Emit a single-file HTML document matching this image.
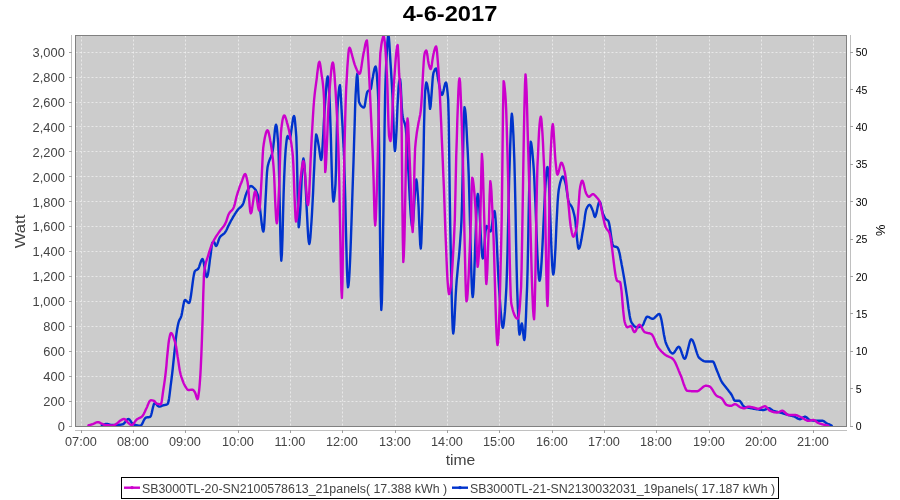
<!DOCTYPE html>
<html><head><meta charset="utf-8"><style>
html,body{margin:0;padding:0;background:#fff;width:900px;height:500px;overflow:hidden;position:relative}
</style></head><body>
<svg width="900" height="500" viewBox="0 0 900 500" style="position:absolute;left:0;top:0;will-change:transform">
<text x="450" y="21.3" text-anchor="middle" font-family="Liberation Sans, sans-serif" font-weight="bold" font-size="22.4" textLength="94.6" lengthAdjust="spacingAndGlyphs" fill="#000">4-6-2017</text>
<rect x="75" y="35" width="772" height="392" fill="#cccccc"/>
<path d="M81.50 35.5V427 M133.50 35.5V427 M185.50 35.5V427 M238.50 35.5V427 M290.50 35.5V427 M342.50 35.5V427 M395.50 35.5V427 M447.50 35.5V427 M499.50 35.5V427 M552.50 35.5V427 M604.50 35.5V427 M656.50 35.5V427 M709.50 35.5V427 M761.50 35.5V427 M813.50 35.5V427 M75.5 426.50H847 M75.5 401.50H847 M75.5 376.50H847 M75.5 351.50H847 M75.5 326.50H847 M75.5 301.50H847 M75.5 276.50H847 M75.5 251.50H847 M75.5 226.50H847 M75.5 201.50H847 M75.5 176.50H847 M75.5 151.50H847 M75.5 126.50H847 M75.5 102.50H847 M75.5 77.50H847 M75.5 52.50H847" stroke="#ffffff" stroke-width="0.55" stroke-dasharray="2 2" fill="none"/>
<defs><clipPath id="c"><rect x="75" y="35" width="772" height="392"/></clipPath></defs><g clip-path="url(#c)"><path d="M101.8 425.2 L102.3 425.0 L102.9 424.9 L103.4 424.7 L104.0 424.5 L104.5 424.3 L105.1 424.1 L105.6 424.0 L106.2 423.9 L106.7 423.9 L107.2 423.9 L107.8 424.1 L108.3 424.2 L108.9 424.4 L109.5 424.7 L110.0 424.8 L110.5 425.0 L111.1 425.0 L111.6 425.0 L112.1 425.0 L112.6 425.0 L113.1 425.0 L113.6 425.0 L114.1 425.0 L114.6 425.0 L115.1 425.0 L115.6 425.0 L116.1 425.0 L116.6 425.0 L117.1 425.0 L117.6 424.9 L118.1 424.9 L118.6 424.9 L119.2 424.8 L119.7 424.8 L120.2 424.7 L120.7 424.6 L121.2 424.6 L121.7 424.5 L122.2 424.4 L122.7 424.3 L123.2 424.1 L123.7 423.7 L124.3 423.2 L124.8 422.6 L125.3 421.9 L125.8 421.2 L126.3 420.5 L126.8 419.9 L127.4 419.4 L127.9 419.1 L128.4 419.0 L128.9 419.2 L129.5 419.6 L130.0 420.2 L130.6 421.0 L131.1 421.9 L131.7 422.7 L132.2 423.4 L132.8 424.0 L133.3 424.3 L133.8 424.5 L134.3 424.6 L134.8 424.8 L135.3 424.9 L135.8 425.1 L136.3 425.2 L136.9 425.3 L137.4 425.4 L137.9 425.5 L138.4 425.6 L138.9 425.6 L139.4 425.7 L139.9 425.7 L140.4 425.7 L140.9 425.5 L141.5 424.9 L142.0 424.1 L142.6 423.1 L143.1 421.9 L143.6 420.8 L144.2 419.7 L144.7 418.8 L145.3 418.1 L145.8 417.7 L146.4 417.5 L146.9 417.4 L147.4 417.3 L148.0 417.3 L148.6 417.2 L149.1 417.1 L149.6 417.0 L150.2 416.8 L150.7 416.2 L151.2 414.8 L151.7 413.0 L152.2 410.8 L152.7 408.6 L153.2 406.5 L153.7 404.7 L154.2 403.5 L154.7 403.0 L155.2 403.2 L155.8 403.6 L156.3 404.1 L156.9 404.8 L157.4 405.5 L158.0 406.0 L158.5 406.4 L159.1 406.6 L159.6 406.6 L160.2 406.5 L160.7 406.3 L161.2 406.1 L161.7 405.9 L162.2 405.7 L162.8 405.5 L163.3 405.3 L163.8 405.2 L164.4 405.1 L164.9 405.0 L165.4 404.9 L165.9 404.8 L166.4 404.6 L167.0 404.4 L167.5 404.2 L168.0 403.3 L168.6 401.2 L169.1 398.2 L169.6 394.6 L170.1 390.4 L170.6 386.1 L171.2 381.7 L171.7 377.5 L172.2 373.4 L172.7 369.0 L173.2 364.2 L173.7 359.4 L174.2 354.6 L174.7 350.0 L175.3 344.6 L175.8 339.1 L176.4 334.1 L177.0 330.0 L177.5 327.2 L178.0 324.7 L178.5 322.6 L179.0 321.0 L179.5 319.8 L180.0 319.0 L180.5 318.1 L181.0 317.0 L181.5 315.3 L182.0 312.9 L182.5 310.1 L183.0 307.2 L183.5 304.5 L184.0 302.2 L184.5 300.6 L185.0 300.0 L185.5 300.1 L186.0 300.5 L186.5 300.9 L187.0 301.5 L187.5 302.1 L188.0 302.5 L188.5 302.9 L189.0 303.0 L189.5 302.4 L190.0 300.8 L190.5 298.3 L191.0 295.2 L191.5 291.6 L192.0 287.8 L192.5 284.0 L193.0 280.3 L193.5 276.9 L194.0 274.1 L194.5 272.1 L195.0 271.0 L195.5 270.5 L196.0 270.2 L196.5 270.0 L197.0 269.7 L197.5 269.4 L198.0 269.0 L198.5 268.3 L199.0 267.1 L199.5 265.7 L200.0 264.2 L200.5 262.7 L201.0 261.3 L201.5 260.1 L202.0 259.3 L202.5 259.0 L203.0 259.8 L203.6 261.8 L204.1 264.7 L204.7 268.0 L205.2 271.3 L205.7 274.2 L206.3 276.2 L206.8 277.0 L207.3 276.3 L207.9 274.4 L208.4 271.6 L208.9 268.1 L209.4 264.1 L209.9 259.9 L210.5 255.8 L211.0 252.0 L211.6 246.6 L212.2 243.0 L212.8 242.4 L213.4 242.1 L214.0 242.0 L214.5 242.6 L215.0 244.0 L215.5 245.4 L216.0 246.0 L216.5 245.7 L217.0 244.8 L217.5 243.6 L218.0 242.2 L218.5 240.6 L219.0 239.1 L219.5 237.9 L220.0 237.0 L220.5 236.4 L221.0 235.9 L221.5 235.5 L222.0 235.1 L222.5 234.7 L223.0 234.4 L223.5 234.0 L224.0 233.6 L224.5 233.1 L225.0 232.5 L225.5 231.7 L226.1 230.8 L226.6 229.8 L227.1 228.7 L227.6 227.5 L228.1 226.4 L228.7 225.2 L229.2 224.2 L229.7 223.2 L230.2 222.3 L230.7 221.3 L231.2 220.3 L231.8 219.4 L232.3 218.5 L232.8 217.6 L233.3 216.7 L233.8 215.9 L234.3 215.1 L234.8 214.2 L235.3 213.4 L235.8 212.7 L236.3 211.9 L236.8 211.2 L237.3 210.5 L237.8 209.8 L238.3 209.2 L238.8 208.6 L239.4 208.1 L239.9 207.7 L240.4 207.3 L240.9 206.8 L241.4 206.3 L242.0 205.7 L242.5 205.0 L243.0 204.0 L243.6 202.6 L244.1 200.9 L244.6 199.0 L245.1 197.2 L245.6 195.4 L246.2 193.8 L246.7 192.5 L247.2 191.4 L247.7 190.3 L248.2 189.2 L248.8 188.2 L249.3 187.3 L249.8 186.6 L250.3 186.2 L250.8 186.0 L251.3 186.1 L251.9 186.3 L252.4 186.6 L252.9 187.0 L253.4 187.5 L253.9 188.0 L254.5 188.6 L255.0 189.2 L255.6 189.9 L256.1 190.9 L256.6 192.1 L257.2 193.4 L257.8 195.0 L258.3 196.7 L258.8 199.0 L259.3 202.5 L259.8 206.7 L260.3 211.4 L260.9 216.2 L261.4 220.9 L261.9 225.0 L262.4 228.4 L262.9 230.7 L263.4 231.5 L263.9 229.1 L264.4 222.6 L264.9 213.3 L265.4 202.4 L266.0 191.2 L266.5 180.8 L267.0 172.5 L267.5 167.6 L268.0 165.1 L268.5 163.2 L269.0 161.6 L269.5 160.2 L270.0 158.9 L270.5 157.9 L271.0 156.8 L271.5 155.5 L272.1 153.2 L272.8 150.2 L273.3 146.4 L273.9 141.1 L274.4 135.4 L274.9 130.1 L275.5 126.2 L276.0 124.7 L276.6 126.2 L277.1 130.4 L277.6 136.4 L278.2 143.5 L278.7 157.0 L279.2 180.1 L279.8 207.3 L280.3 233.4 L280.8 253.0 L281.3 260.7 L281.9 254.1 L282.5 237.5 L283.0 215.9 L283.6 194.1 L284.2 177.0 L284.9 161.5 L285.6 150.2 L286.1 145.0 L286.6 140.5 L287.1 137.3 L287.6 136.1 L288.1 136.5 L288.6 137.4 L289.1 138.4 L289.6 138.8 L290.2 137.8 L290.7 135.2 L291.2 131.6 L291.8 127.4 L292.4 123.2 L292.9 119.6 L293.4 117.0 L294.0 116.0 L294.6 117.7 L295.1 122.2 L295.7 128.9 L296.3 136.8 L296.9 155.8 L297.5 186.4 L298.1 214.8 L298.7 227.3 L299.2 224.9 L299.7 218.6 L300.3 209.5 L300.8 198.6 L301.3 187.2 L301.8 176.3 L302.4 167.2 L302.9 160.9 L303.4 158.5 L303.9 160.5 L304.5 166.0 L305.0 174.1 L305.5 184.2 L306.1 195.4 L306.6 207.1 L307.2 218.3 L307.7 228.4 L308.2 236.5 L308.8 242.0 L309.3 244.0 L309.8 242.1 L310.4 237.0 L310.9 229.8 L311.5 221.5 L312.0 213.2 L312.5 203.8 L313.1 192.3 L313.6 179.9 L314.2 167.8 L314.7 157.0 L315.4 142.6 L316.1 134.5 L316.6 135.3 L317.1 137.3 L317.7 140.0 L318.2 143.1 L318.7 145.9 L319.2 148.9 L319.7 152.6 L320.2 156.2 L320.7 158.9 L321.2 160.0 L321.7 157.8 L322.2 152.1 L322.7 143.7 L323.3 134.0 L323.8 123.9 L324.3 114.5 L324.8 107.0 L325.4 99.3 L326.0 91.2 L326.5 83.8 L327.1 78.5 L327.7 76.5 L328.2 79.0 L328.7 84.8 L329.2 91.9 L329.7 102.2 L330.2 117.2 L330.8 135.1 L331.3 153.9 L331.8 171.9 L332.3 187.1 L332.9 197.6 L333.4 201.5 L333.9 200.1 L334.4 196.3 L335.0 190.7 L335.5 183.8 L336.0 169.6 L336.5 146.6 L337.0 123.3 L337.5 108.4 L338.1 99.5 L338.7 92.1 L339.3 87.1 L339.9 85.2 L340.4 89.3 L341.0 98.5 L341.5 108.4 L342.0 117.6 L342.6 127.4 L343.1 137.9 L343.7 149.4 L344.2 162.0 L344.7 178.7 L345.3 200.4 L345.8 224.3 L346.4 247.7 L346.9 267.9 L347.5 282.0 L348.0 287.3 L348.5 285.5 L349.0 280.4 L349.5 272.5 L350.0 262.3 L350.5 250.1 L351.0 236.4 L351.5 221.7 L352.0 206.5 L352.5 191.2 L353.0 176.2 L353.5 162.0 L354.0 145.2 L354.6 126.0 L355.1 108.0 L355.6 95.0 L356.2 85.1 L356.7 77.1 L357.3 73.8 L357.8 80.7 L358.4 93.9 L358.9 101.7 L359.4 102.9 L359.9 103.9 L360.4 104.8 L360.9 105.6 L361.4 106.2 L362.0 106.7 L362.5 107.1 L363.0 107.3 L363.5 107.5 L364.0 107.5 L364.6 106.5 L365.1 103.8 L365.6 100.3 L366.2 96.7 L366.8 93.6 L367.3 91.9 L367.8 91.2 L368.4 90.8 L368.9 90.5 L369.4 90.2 L369.9 89.9 L370.5 89.4 L371.0 88.6 L371.6 84.8 L372.3 79.9 L372.9 76.9 L373.4 73.9 L374.0 71.0 L374.5 68.7 L375.1 67.1 L375.6 66.5 L376.1 68.2 L376.7 72.9 L377.2 80.1 L377.8 89.3 L378.3 100.0 L378.8 122.8 L379.3 163.7 L379.8 212.8 L380.3 260.2 L380.8 295.9 L381.3 310.0 L381.9 301.3 L382.4 278.1 L382.9 244.6 L383.5 205.3 L384.1 164.4 L384.6 126.3 L385.1 95.4 L385.7 75.8 L386.2 63.8 L386.8 52.7 L387.3 43.5 L387.9 37.3 L388.4 35.0 L388.9 37.7 L389.4 44.4 L389.9 52.9 L390.4 61.1 L390.9 68.7 L391.4 76.9 L391.9 85.7 L392.4 95.0 L392.9 107.0 L393.4 121.6 L393.9 135.9 L394.4 146.7 L394.9 151.0 L395.4 148.3 L395.9 141.0 L396.5 130.6 L397.0 118.6 L397.5 106.3 L398.1 95.1 L398.6 86.5 L399.1 81.9 L399.6 80.0 L400.1 79.2 L400.7 84.1 L401.2 95.3 L401.8 107.4 L402.4 115.1 L403.0 118.1 L403.5 120.1 L404.1 121.7 L404.7 123.2 L405.2 125.3 L405.8 128.5 L406.5 137.1 L407.1 148.5 L407.6 157.1 L408.1 166.7 L408.7 177.0 L409.2 187.4 L409.7 197.4 L410.2 206.6 L410.7 214.6 L411.3 220.9 L411.8 225.0 L412.3 226.5 L412.8 224.5 L413.3 219.2 L413.8 211.6 L414.3 203.0 L414.8 194.4 L415.3 186.8 L415.8 181.5 L416.3 179.5 L416.9 182.4 L417.4 189.2 L418.0 197.0 L418.6 207.0 L419.1 220.3 L419.7 233.8 L420.2 244.3 L420.8 248.5 L421.3 242.8 L421.8 228.0 L422.4 207.4 L422.9 184.3 L423.4 162.0 L424.0 127.5 L424.7 100.0 L425.2 91.2 L425.8 84.9 L426.3 82.5 L426.9 83.6 L427.5 86.4 L428.1 90.3 L428.7 94.6 L429.4 102.9 L430.0 108.9 L430.6 106.5 L431.1 100.4 L431.7 92.3 L432.3 83.9 L432.8 77.0 L433.4 73.2 L433.9 71.7 L434.5 70.4 L435.0 69.4 L435.6 68.7 L436.1 68.5 L436.6 69.7 L437.1 72.7 L437.6 76.2 L438.1 79.2 L438.7 82.0 L439.2 85.0 L439.8 88.0 L440.3 90.7 L440.9 92.9 L441.4 94.4 L442.0 95.0 L442.6 94.3 L443.1 92.5 L443.7 90.1 L444.2 87.4 L444.8 85.0 L445.3 83.2 L445.9 82.5 L446.5 83.7 L447.0 87.3 L447.6 92.8 L448.2 100.0 L448.7 118.9 L449.2 153.8 L449.7 192.8 L450.2 224.0 L450.7 248.3 L451.2 273.2 L451.7 296.3 L452.2 315.5 L452.7 328.6 L453.2 333.5 L453.7 331.0 L454.2 324.6 L454.7 315.5 L455.2 305.3 L455.7 295.3 L456.2 287.0 L456.7 280.0 L457.3 273.9 L457.8 268.2 L458.3 262.8 L458.9 257.3 L459.4 251.6 L459.9 245.2 L460.4 238.0 L461.0 229.7 L461.5 220.0 L462.0 204.8 L462.5 181.9 L463.0 156.2 L463.5 132.0 L464.0 114.2 L464.5 107.2 L465.0 109.0 L465.6 113.8 L466.1 121.2 L466.6 130.3 L467.1 140.6 L467.7 151.3 L468.2 162.0 L468.7 174.4 L469.2 190.9 L469.7 210.1 L470.2 230.4 L470.7 250.4 L471.2 268.5 L471.7 283.4 L472.2 293.3 L472.7 297.0 L473.2 294.1 L473.7 286.3 L474.2 274.8 L474.7 260.7 L475.2 245.5 L475.8 230.3 L476.3 216.2 L476.8 204.7 L477.3 196.9 L477.8 194.0 L478.3 195.8 L478.8 200.7 L479.3 207.9 L479.8 216.7 L480.3 226.2 L480.8 235.7 L481.3 244.5 L481.8 251.7 L482.3 256.6 L482.8 258.4 L483.3 256.6 L483.9 252.0 L484.4 245.6 L484.9 238.8 L485.4 232.4 L486.0 227.8 L486.5 226.0 L487.0 226.2 L487.5 226.9 L488.0 227.7 L488.5 228.8 L489.0 229.8 L489.5 230.6 L490.0 231.3 L490.5 231.5 L491.0 230.6 L491.5 228.3 L492.0 225.0 L492.5 221.2 L493.0 217.5 L493.5 214.2 L494.0 211.9 L494.5 211.0 L495.0 213.0 L495.5 218.3 L496.0 226.4 L496.5 236.3 L497.0 247.3 L497.5 258.6 L498.0 269.5 L498.5 279.2 L499.0 287.0 L499.5 294.5 L500.1 302.3 L500.6 310.0 L501.2 316.9 L501.7 322.6 L502.3 326.4 L502.8 327.8 L503.3 326.6 L503.8 323.4 L504.3 318.4 L504.9 311.9 L505.4 304.3 L505.9 295.9 L506.4 287.0 L506.9 273.2 L507.5 252.9 L508.0 228.8 L508.6 203.8 L509.1 180.6 L509.7 162.0 L510.2 146.2 L510.8 130.5 L511.3 118.6 L511.8 113.8 L512.3 116.6 L512.8 124.2 L513.4 135.1 L513.9 148.2 L514.4 162.0 L514.9 181.7 L515.5 209.1 L516.0 239.1 L516.6 266.8 L517.1 287.0 L517.7 303.7 L518.3 319.0 L518.9 330.2 L519.5 334.5 L520.1 332.8 L520.6 329.0 L521.2 325.2 L521.8 323.5 L522.3 325.2 L522.8 329.3 L523.3 334.2 L523.8 338.3 L524.3 340.0 L524.9 336.8 L525.4 328.2 L526.0 315.9 L526.5 301.6 L527.1 287.0 L527.6 269.4 L528.1 244.9 L528.6 217.0 L529.2 189.3 L529.7 165.2 L530.2 148.1 L530.7 141.7 L531.2 143.0 L531.7 146.4 L532.3 151.3 L532.8 157.0 L533.3 162.8 L533.8 169.8 L534.3 179.3 L534.8 190.6 L535.4 203.3 L535.9 216.6 L536.4 230.1 L536.9 243.1 L537.4 255.1 L538.0 265.4 L538.5 273.5 L539.0 278.8 L539.5 280.7 L540.0 279.4 L540.5 275.8 L541.0 270.2 L541.5 262.9 L542.0 254.3 L542.5 244.7 L543.0 234.5 L543.5 223.8 L544.0 213.2 L544.5 203.0 L545.0 193.4 L545.5 184.8 L546.0 177.5 L546.5 171.9 L547.0 168.3 L547.5 167.0 L548.0 169.5 L548.6 176.4 L549.1 186.6 L549.6 199.3 L550.1 213.4 L550.7 228.1 L551.2 242.2 L551.7 254.9 L552.2 265.1 L552.8 272.0 L553.3 274.5 L553.8 272.4 L554.4 266.6 L554.9 258.0 L555.5 247.5 L556.0 235.8 L556.5 223.9 L557.1 212.4 L557.6 202.4 L558.2 194.7 L558.7 190.0 L559.2 187.3 L559.7 184.8 L560.2 182.6 L560.8 180.5 L561.3 178.9 L561.8 177.6 L562.3 176.8 L562.8 176.5 L563.3 176.9 L563.8 177.9 L564.4 179.3 L564.9 181.0 L565.4 182.8 L566.0 185.4 L566.5 188.9 L567.1 192.9 L567.7 196.8 L568.2 200.0 L568.8 202.2 L569.3 203.4 L569.9 204.2 L570.5 204.9 L571.0 205.6 L571.5 206.4 L572.1 207.5 L572.6 208.9 L573.2 210.6 L573.7 212.7 L574.3 215.0 L574.8 217.6 L575.4 221.4 L575.9 226.6 L576.5 232.6 L577.0 238.5 L577.6 243.7 L578.1 247.3 L578.7 248.7 L579.2 248.2 L579.8 247.0 L580.3 245.0 L580.8 242.5 L581.4 239.6 L581.9 236.5 L582.4 233.2 L583.0 230.0 L583.5 227.0 L584.0 223.5 L584.6 219.4 L585.1 215.2 L585.7 211.7 L586.2 209.5 L586.8 208.2 L587.3 207.1 L587.9 206.2 L588.4 205.4 L589.0 205.0 L589.5 204.8 L590.1 205.1 L590.6 205.8 L591.2 206.9 L591.8 208.2 L592.3 209.5 L592.9 210.9 L593.4 212.5 L593.9 214.5 L594.4 216.2 L594.9 216.9 L595.4 216.4 L595.9 215.0 L596.5 212.9 L597.0 210.5 L597.5 207.9 L598.0 205.5 L598.6 203.4 L599.1 202.0 L599.6 201.5 L600.1 202.2 L600.7 204.0 L601.2 206.4 L601.8 209.1 L602.4 211.6 L602.9 213.5 L603.4 214.9 L604.0 216.1 L604.5 217.2 L605.1 218.2 L605.6 218.9 L606.1 219.4 L606.7 219.7 L607.2 220.0 L607.8 220.4 L608.3 220.9 L608.8 222.1 L609.3 224.2 L609.8 227.0 L610.3 230.3 L610.8 233.8 L611.3 237.3 L611.8 240.5 L612.3 243.2 L612.8 245.1 L613.3 246.0 L613.8 246.3 L614.3 246.4 L614.8 246.6 L615.3 246.7 L615.8 246.8 L616.3 246.9 L616.8 247.1 L617.3 247.3 L617.8 247.9 L618.4 249.2 L618.9 250.9 L619.5 253.1 L620.0 255.6 L620.5 258.4 L621.1 261.3 L621.6 264.3 L622.2 267.2 L622.7 270.0 L623.2 272.9 L623.8 276.2 L624.4 279.6 L624.9 283.1 L625.5 286.6 L626.0 290.0 L626.5 293.4 L627.1 297.1 L627.6 301.1 L628.1 305.0 L628.6 308.9 L629.2 312.5 L629.7 315.8 L630.2 318.6 L630.8 320.7 L631.3 322.0 L631.8 322.9 L632.4 323.7 L632.9 324.5 L633.5 325.2 L634.0 325.8 L634.5 326.3 L635.1 326.7 L635.6 327.0 L636.2 327.2 L636.7 327.3 L637.2 327.3 L637.8 327.2 L638.3 327.2 L638.8 327.1 L639.4 326.9 L639.9 326.8 L640.4 326.6 L640.9 326.4 L641.5 326.2 L642.0 326.0 L642.5 325.6 L643.1 324.7 L643.6 323.7 L644.1 322.4 L644.6 321.1 L645.2 319.8 L645.7 318.6 L646.2 317.6 L646.8 316.9 L647.3 316.7 L647.8 316.8 L648.4 316.9 L648.9 317.2 L649.5 317.4 L650.0 317.8 L650.5 318.1 L651.1 318.3 L651.6 318.6 L652.2 318.7 L652.7 318.8 L653.2 318.7 L653.7 318.5 L654.2 318.2 L654.7 317.7 L655.2 317.2 L655.7 316.7 L656.3 316.1 L656.8 315.6 L657.3 315.1 L657.8 314.6 L658.3 314.3 L658.8 314.1 L659.3 314.0 L659.8 314.4 L660.3 315.6 L660.8 317.3 L661.4 319.6 L661.9 322.3 L662.4 325.2 L662.9 328.3 L663.4 331.4 L663.9 334.5 L664.5 337.3 L665.0 339.8 L665.5 341.8 L666.0 343.3 L666.5 344.5 L667.0 345.6 L667.5 346.7 L668.1 347.8 L668.6 348.9 L669.1 349.8 L669.6 350.7 L670.1 351.5 L670.6 352.2 L671.2 352.7 L671.7 353.2 L672.2 353.4 L672.7 353.5 L673.2 353.4 L673.7 353.0 L674.2 352.5 L674.7 351.8 L675.2 351.0 L675.8 350.1 L676.3 349.3 L676.8 348.5 L677.3 347.8 L677.8 347.3 L678.3 346.9 L678.8 346.8 L679.3 347.1 L679.9 347.8 L680.4 349.0 L680.9 350.4 L681.5 352.0 L682.0 353.6 L682.6 355.2 L683.1 356.6 L683.6 357.8 L684.2 358.5 L684.7 358.8 L685.2 358.5 L685.7 357.6 L686.2 356.2 L686.7 354.4 L687.2 352.4 L687.7 350.2 L688.3 347.9 L688.8 345.7 L689.3 343.7 L689.8 341.9 L690.3 340.5 L690.8 339.6 L691.3 339.3 L691.8 339.5 L692.3 340.0 L692.8 340.8 L693.3 341.9 L693.8 343.2 L694.3 344.6 L694.8 346.2 L695.3 347.8 L695.8 349.5 L696.3 351.1 L696.8 352.7 L697.3 354.1 L697.8 355.4 L698.3 356.6 L698.8 357.4 L699.3 358.0 L699.8 358.4 L700.3 358.8 L700.8 359.2 L701.4 359.6 L701.9 360.0 L702.4 360.3 L702.9 360.6 L703.4 360.9 L703.9 361.1 L704.5 361.3 L705.0 361.4 L705.5 361.5 L706.0 361.5 L706.5 361.5 L707.0 361.5 L707.5 361.5 L708.1 361.5 L708.6 361.5 L709.1 361.5 L709.6 361.5 L710.1 361.5 L710.6 361.5 L711.2 361.5 L711.7 361.5 L712.2 361.5 L712.7 361.5 L713.2 361.7 L713.7 362.4 L714.2 363.4 L714.7 364.6 L715.2 366.0 L715.7 367.4 L716.2 368.8 L716.7 370.0 L717.2 371.2 L717.7 372.4 L718.2 373.6 L718.7 374.9 L719.2 376.2 L719.7 377.4 L720.2 378.6 L720.7 379.8 L721.2 380.8 L721.7 381.7 L722.2 382.5 L722.7 383.3 L723.2 383.9 L723.7 384.6 L724.2 385.2 L724.7 385.8 L725.2 386.4 L725.7 387.0 L726.2 387.7 L726.7 388.3 L727.2 389.0 L727.7 389.6 L728.2 390.2 L728.7 390.9 L729.2 391.5 L729.7 392.2 L730.2 392.8 L730.7 393.5 L731.2 394.3 L731.7 395.0 L732.2 396.0 L732.8 397.3 L733.4 398.5 L733.9 399.7 L734.5 400.5 L735.0 400.8 L735.5 400.8 L736.0 400.8 L736.6 400.8 L737.1 400.8 L737.6 400.8 L738.2 400.8 L738.7 400.8 L739.2 400.8 L739.7 400.9 L740.2 401.4 L740.7 402.0 L741.2 402.7 L741.7 403.5 L742.2 404.3 L742.7 405.1 L743.2 405.8 L743.7 406.4 L744.2 406.7 L744.7 406.9 L745.3 407.1 L745.8 407.2 L746.3 407.3 L746.8 407.4 L747.4 407.5 L747.9 407.6 L748.4 407.7 L748.9 407.8 L749.5 407.9 L750.0 408.0 L750.5 408.1 L751.0 408.2 L751.5 408.3 L752.1 408.4 L752.6 408.5 L753.1 408.6 L753.6 408.7 L754.1 408.8 L754.6 408.9 L755.2 409.0 L755.7 409.0 L756.2 409.1 L756.7 409.2 L757.2 409.3 L757.7 409.4 L758.2 409.4 L758.7 409.5 L759.2 409.6 L759.7 409.7 L760.3 409.8 L760.8 409.8 L761.3 409.9 L761.8 409.9 L762.3 410.0 L762.8 410.0 L763.3 410.0 L763.8 410.0 L764.4 409.9 L764.9 409.7 L765.4 409.5 L766.0 409.3 L766.5 409.0 L767.1 408.8 L767.6 408.6 L768.1 408.4 L768.7 408.3 L769.2 408.3 L769.7 408.4 L770.2 408.6 L770.7 409.0 L771.2 409.4 L771.8 409.8 L772.3 410.2 L772.8 410.5 L773.3 410.8 L773.8 411.0 L774.3 411.1 L774.8 411.3 L775.4 411.4 L775.9 411.6 L776.4 411.7 L776.9 411.8 L777.4 411.9 L777.9 412.0 L778.5 412.1 L779.0 412.2 L779.5 412.4 L780.0 412.5 L780.5 412.6 L781.0 412.8 L781.6 412.9 L782.1 413.1 L782.6 413.3 L783.1 413.4 L783.6 413.6 L784.1 413.7 L784.7 413.9 L785.2 414.1 L785.7 414.2 L786.2 414.4 L786.7 414.5 L787.3 414.7 L787.8 414.9 L788.3 415.0 L788.8 415.1 L789.3 415.3 L789.9 415.4 L790.4 415.5 L790.9 415.7 L791.4 415.8 L791.9 415.9 L792.4 416.0 L793.0 416.2 L793.5 416.3 L794.0 416.5 L794.5 416.7 L795.0 416.9 L795.5 417.2 L796.0 417.5 L796.5 417.8 L797.0 418.1 L797.5 418.4 L798.0 418.6 L798.5 418.9 L799.0 419.0 L799.5 419.2 L800.0 419.2 L800.5 419.1 L801.0 418.9 L801.5 418.7 L802.0 418.3 L802.5 417.9 L803.0 417.6 L803.5 417.2 L804.0 417.0 L804.5 416.8 L805.0 416.7 L805.5 416.8 L806.0 417.0 L806.5 417.3 L807.0 417.8 L807.5 418.2 L808.0 418.7 L808.5 419.1 L809.0 419.5 L809.5 419.8 L810.0 420.0 L810.5 420.1 L811.0 420.2 L811.5 420.3 L812.1 420.4 L812.6 420.5 L813.1 420.5 L813.6 420.6 L814.1 420.7 L814.6 420.7 L815.2 420.7 L815.7 420.8 L816.2 420.8 L816.7 420.8 L817.2 420.8 L817.8 420.8 L818.3 420.8 L818.8 420.8 L819.3 420.8 L819.9 420.8 L820.4 420.8 L820.9 420.8 L821.4 420.8 L822.0 420.8 L822.5 420.8 L823.0 420.9 L823.5 421.1 L824.1 421.4 L824.6 421.8 L825.1 422.2 L825.7 422.6 L826.2 423.0 L826.7 423.3 L827.2 423.5 L827.7 423.8 L828.2 424.0 L828.7 424.2 L829.2 424.4 L829.7 424.7 L830.2 424.9 L830.7 425.1 L831.2 425.3 L831.7 425.5" stroke="#0033cc" stroke-width="2.4" fill="none" stroke-linejoin="round" stroke-linecap="round"/>
<path d="M88.4 425.4 L88.9 425.2 L89.5 425.1 L90.0 424.9 L90.6 424.8 L91.1 424.6 L91.7 424.4 L92.2 424.3 L92.8 424.1 L93.3 423.9 L93.8 423.7 L94.3 423.5 L94.8 423.2 L95.3 422.9 L95.8 422.7 L96.3 422.5 L96.8 422.3 L97.3 422.1 L97.8 422.1 L98.3 422.2 L98.9 422.3 L99.5 422.5 L100.0 422.8 L100.5 423.1 L101.1 423.4 L101.7 423.7 L102.2 423.9 L102.7 424.1 L103.2 424.3 L103.7 424.6 L104.3 424.8 L104.8 425.0 L105.3 425.1 L105.8 425.2 L106.3 425.2 L106.8 425.3 L107.3 425.3 L107.8 425.3 L108.3 425.3 L108.8 425.3 L109.3 425.4 L109.9 425.4 L110.4 425.4 L110.9 425.4 L111.4 425.4 L111.9 425.4 L112.4 425.4 L112.9 425.4 L113.4 425.4 L113.9 425.2 L114.4 425.0 L114.9 424.8 L115.4 424.5 L115.9 424.2 L116.4 423.9 L116.9 423.5 L117.4 423.1 L117.9 422.6 L118.5 422.1 L119.0 421.6 L119.5 421.2 L120.0 420.8 L120.5 420.5 L121.0 420.2 L121.5 419.9 L122.0 419.6 L122.5 419.4 L123.0 419.2 L123.5 419.0 L124.0 419.0 L124.5 419.1 L125.0 419.4 L125.5 419.9 L126.0 420.4 L126.5 421.0 L127.0 421.6 L127.5 422.2 L128.0 422.6 L128.5 423.0 L129.0 423.5 L129.5 423.9 L130.1 424.3 L130.6 424.7 L131.1 424.9 L131.6 425.0 L132.1 424.9 L132.7 424.5 L133.2 424.0 L133.7 423.4 L134.2 422.7 L134.8 421.9 L135.3 421.2 L135.8 420.5 L136.4 419.9 L136.9 419.4 L137.4 419.0 L138.0 418.7 L138.5 418.4 L139.0 418.2 L139.6 418.0 L140.1 417.7 L140.6 417.4 L141.1 417.1 L141.7 416.7 L142.2 416.3 L142.7 415.7 L143.2 415.0 L143.7 414.1 L144.2 413.0 L144.7 412.0 L145.2 410.9 L145.7 409.8 L146.2 408.8 L146.7 407.8 L147.2 406.6 L147.7 405.3 L148.2 404.1 L148.7 402.9 L149.2 401.9 L149.7 401.0 L150.2 400.5 L150.7 400.3 L151.2 400.3 L151.7 400.4 L152.2 400.4 L152.8 400.5 L153.3 400.7 L153.8 400.8 L154.3 401.1 L154.8 401.5 L155.3 402.1 L155.8 402.7 L156.3 403.3 L156.8 403.7 L157.3 403.9 L157.8 404.0 L158.3 404.0 L158.8 404.1 L159.3 404.1 L159.8 404.2 L160.3 404.2 L160.8 404.2 L161.3 403.2 L161.8 400.7 L162.3 397.3 L162.8 393.5 L163.3 390.0 L163.8 386.8 L164.3 383.4 L164.8 379.8 L165.3 375.9 L165.8 371.7 L166.4 365.9 L166.9 359.4 L167.5 353.3 L168.0 348.3 L168.5 343.5 L169.0 340.0 L169.5 337.5 L170.0 335.2 L170.5 333.6 L171.0 333.0 L171.5 333.2 L172.0 333.8 L172.5 334.7 L173.0 335.9 L173.5 337.3 L174.0 338.8 L174.5 340.4 L175.0 342.0 L175.5 344.0 L176.1 346.5 L176.6 349.6 L177.1 352.9 L177.6 356.5 L178.2 360.1 L178.7 363.7 L179.2 367.1 L179.7 370.2 L180.3 372.9 L180.8 375.0 L181.3 376.8 L181.9 378.4 L182.4 379.9 L182.9 381.3 L183.4 382.6 L183.9 383.8 L184.5 384.9 L185.0 385.8 L185.6 386.8 L186.1 387.7 L186.7 388.6 L187.2 389.3 L187.8 389.8 L188.3 390.0 L188.8 390.0 L189.4 390.0 L189.9 389.9 L190.4 389.9 L190.9 389.8 L191.4 389.7 L192.0 389.7 L192.5 389.7 L193.0 389.9 L193.5 390.3 L194.0 390.9 L194.5 391.7 L195.0 392.5 L195.5 393.7 L196.0 395.4 L196.5 397.2 L197.0 398.6 L197.5 399.2 L198.1 397.8 L198.6 394.4 L199.2 390.0 L199.7 384.3 L200.3 376.2 L200.8 366.7 L201.4 353.5 L202.0 337.4 L202.6 320.0 L203.3 293.5 L204.0 274.0 L204.5 270.0 L205.0 266.8 L205.5 264.2 L206.0 262.2 L206.5 260.6 L207.0 259.1 L207.5 257.6 L208.0 256.0 L208.5 254.3 L209.0 252.6 L209.5 251.1 L210.0 249.6 L210.5 248.1 L211.0 246.7 L211.5 245.4 L212.0 244.2 L212.5 243.1 L213.0 242.0 L213.5 241.0 L214.0 240.0 L214.5 239.1 L215.0 238.3 L215.5 237.4 L216.0 236.6 L216.5 235.8 L217.0 235.1 L217.5 234.4 L218.0 233.6 L218.5 232.9 L219.0 232.2 L219.5 231.5 L220.0 230.8 L220.5 230.1 L221.0 229.5 L221.5 228.9 L222.0 228.3 L222.5 227.7 L223.0 227.1 L223.5 226.5 L224.0 225.8 L224.5 225.0 L225.0 224.2 L225.5 223.1 L226.1 221.8 L226.6 220.3 L227.1 218.7 L227.6 217.1 L228.1 215.6 L228.7 214.3 L229.2 213.3 L229.7 212.5 L230.2 211.9 L230.7 211.4 L231.2 210.9 L231.8 210.4 L232.3 209.8 L232.8 209.1 L233.3 208.3 L233.8 207.1 L234.4 205.5 L234.9 203.6 L235.4 201.5 L235.9 199.3 L236.4 197.1 L237.0 195.1 L237.5 193.3 L238.0 191.7 L238.6 190.1 L239.1 188.6 L239.6 187.1 L240.1 185.7 L240.6 184.3 L241.2 183.0 L241.7 181.7 L242.2 180.4 L242.7 178.9 L243.2 177.5 L243.7 176.1 L244.2 175.0 L244.7 174.3 L245.2 174.0 L245.8 174.7 L246.3 176.5 L246.9 178.9 L247.5 181.7 L248.1 185.9 L248.6 192.3 L249.2 199.5 L249.7 206.3 L250.2 211.3 L250.8 213.3 L251.4 212.4 L251.9 209.9 L252.4 206.4 L253.0 202.4 L253.6 198.4 L254.1 194.9 L254.6 192.4 L255.2 191.5 L255.7 192.3 L256.2 194.5 L256.7 197.5 L257.2 201.0 L257.7 204.5 L258.2 207.5 L258.7 209.7 L259.2 210.5 L259.7 208.3 L260.2 202.4 L260.7 194.4 L261.2 185.3 L261.7 176.7 L262.2 166.6 L262.7 155.5 L263.2 148.2 L263.7 144.3 L264.3 140.8 L264.8 137.7 L265.4 135.2 L265.9 133.1 L266.4 131.6 L267.0 130.6 L267.5 130.3 L268.1 130.9 L268.6 132.4 L269.1 134.6 L269.7 137.4 L270.2 140.4 L270.8 143.5 L271.3 146.8 L271.9 150.7 L272.4 155.3 L273.0 160.4 L273.5 166.2 L274.1 174.7 L274.6 186.5 L275.1 199.4 L275.7 211.2 L276.2 219.9 L276.8 223.3 L277.3 220.5 L277.9 212.9 L278.4 202.2 L279.0 189.7 L279.5 177.0 L280.2 153.0 L280.9 133.4 L281.4 128.2 L282.0 123.7 L282.5 120.2 L283.1 117.6 L283.6 116.0 L284.2 115.4 L284.8 115.8 L285.3 116.9 L285.9 118.6 L286.5 120.5 L287.0 122.6 L287.6 124.7 L288.1 126.6 L288.6 128.8 L289.2 131.3 L289.7 133.9 L290.2 136.8 L290.7 139.9 L291.3 143.3 L291.8 147.1 L292.4 151.6 L292.9 156.9 L293.4 165.6 L293.9 178.6 L294.4 193.4 L295.0 207.2 L295.5 217.5 L296.0 221.5 L296.5 220.3 L297.1 217.2 L297.6 212.4 L298.1 206.6 L298.7 200.1 L299.2 193.4 L299.7 187.0 L300.3 181.3 L300.8 176.7 L301.3 172.7 L301.8 168.5 L302.4 164.7 L302.9 162.0 L303.4 161.0 L303.9 162.5 L304.4 166.6 L304.9 172.4 L305.4 179.3 L306.0 186.7 L306.5 193.6 L307.0 199.4 L307.5 203.5 L308.0 205.0 L308.5 202.4 L309.1 195.4 L309.6 185.2 L310.1 173.1 L310.6 160.4 L311.2 148.3 L311.7 138.1 L312.3 127.7 L312.9 117.3 L313.5 107.7 L314.1 100.0 L314.6 95.0 L315.1 90.7 L315.6 86.9 L316.1 83.2 L316.7 78.8 L317.2 74.0 L317.8 69.4 L318.3 65.5 L318.8 62.8 L319.4 61.8 L319.9 62.9 L320.4 65.7 L320.9 69.4 L321.4 73.2 L321.9 76.8 L322.5 80.4 L323.0 84.9 L323.6 91.2 L324.1 100.0 L324.6 138.6 L325.2 172.0 L325.7 168.8 L326.2 160.5 L326.7 148.7 L327.3 135.1 L327.8 121.4 L328.3 109.2 L328.8 100.4 L329.3 93.8 L329.8 87.2 L330.3 80.8 L330.8 75.0 L331.3 70.0 L331.8 66.0 L332.3 63.4 L332.8 62.5 L333.4 64.1 L333.9 68.5 L334.5 74.9 L335.0 82.8 L335.6 91.3 L336.1 100.0 L336.6 109.2 L337.2 120.0 L337.7 132.5 L338.3 146.5 L338.8 162.0 L339.3 182.8 L339.8 211.0 L340.4 241.6 L340.9 269.6 L341.4 290.1 L341.9 298.0 L342.5 281.6 L343.0 243.0 L343.6 197.9 L344.2 162.0 L344.7 139.5 L345.2 118.4 L345.7 100.6 L346.2 87.9 L346.8 77.6 L347.3 68.1 L347.9 59.9 L348.4 53.4 L348.9 49.2 L349.5 47.7 L350.0 48.3 L350.6 49.7 L351.1 51.7 L351.7 53.8 L352.2 55.8 L352.7 57.7 L353.3 59.7 L353.8 61.7 L354.4 63.6 L354.9 65.1 L355.4 66.4 L355.9 67.8 L356.5 69.1 L357.0 70.3 L357.5 71.4 L358.0 72.4 L358.6 73.1 L359.1 73.6 L359.6 73.8 L360.1 73.2 L360.6 71.4 L361.1 68.8 L361.6 65.6 L362.1 62.2 L362.6 58.8 L363.1 55.7 L363.6 53.1 L364.2 50.5 L364.7 47.7 L365.2 44.9 L365.8 42.6 L366.3 41.0 L366.9 40.4 L367.6 47.3 L368.3 59.8 L368.8 68.6 L369.3 78.6 L369.8 89.2 L370.3 100.0 L370.8 111.6 L371.4 123.5 L371.9 135.7 L372.5 148.5 L373.0 162.0 L373.6 179.9 L374.1 200.8 L374.6 218.2 L375.2 225.5 L375.8 219.2 L376.4 203.3 L377.0 182.6 L377.6 162.0 L378.1 140.6 L378.7 114.0 L379.2 87.2 L379.8 65.5 L380.3 53.7 L380.9 48.7 L381.4 44.5 L382.0 41.0 L382.6 38.5 L383.1 36.9 L383.7 36.3 L384.2 37.9 L384.8 42.2 L385.4 48.8 L385.9 56.9 L386.4 66.1 L387.0 75.8 L387.5 89.4 L388.0 108.3 L388.5 125.7 L389.0 135.2 L389.5 138.2 L390.0 140.2 L390.5 141.0 L391.0 137.9 L391.6 130.0 L392.1 119.0 L392.6 106.8 L393.2 95.4 L393.7 86.5 L394.2 79.7 L394.7 72.7 L395.2 65.7 L395.7 59.2 L396.2 53.6 L396.7 49.0 L397.2 46.1 L397.7 45.0 L398.4 56.2 L399.1 73.2 L399.6 79.9 L400.1 85.1 L400.6 91.0 L401.1 100.0 L401.7 132.3 L402.2 187.2 L402.8 239.0 L403.3 262.0 L403.8 255.8 L404.4 239.6 L404.9 216.6 L405.4 190.2 L405.9 163.9 L406.4 140.9 L407.0 124.7 L407.5 118.5 L408.1 123.0 L408.6 134.2 L409.2 148.4 L409.8 162.0 L410.4 177.1 L411.0 195.5 L411.5 213.2 L412.1 226.7 L412.7 232.0 L413.3 220.4 L413.9 194.2 L414.5 165.9 L415.1 148.5 L415.7 141.9 L416.3 136.8 L416.8 132.8 L417.4 129.3 L418.0 125.8 L418.5 122.7 L419.1 120.1 L419.6 117.6 L420.2 114.7 L420.7 111.1 L421.2 105.8 L421.7 98.2 L422.2 89.2 L422.7 79.6 L423.2 70.3 L423.7 62.2 L424.2 56.2 L424.7 53.1 L425.2 51.8 L425.8 50.8 L426.3 50.4 L426.9 52.1 L427.5 56.0 L428.1 60.5 L428.7 63.8 L429.2 65.6 L429.7 67.3 L430.2 68.6 L430.7 69.1 L431.2 67.9 L431.8 64.9 L432.3 61.1 L432.9 57.3 L433.4 54.4 L433.9 52.2 L434.5 50.1 L435.0 48.2 L435.6 46.9 L436.1 46.4 L436.6 48.2 L437.1 52.7 L437.6 58.8 L438.1 65.1 L438.6 72.1 L439.1 80.7 L439.6 90.1 L440.1 100.0 L440.6 111.3 L441.2 123.8 L441.7 136.7 L442.3 149.6 L442.8 162.0 L443.3 174.3 L443.9 187.9 L444.4 202.2 L444.9 216.8 L445.4 231.4 L446.0 245.4 L446.5 258.5 L447.0 270.1 L447.5 280.0 L448.1 287.5 L448.6 292.4 L449.1 294.1 L449.6 293.3 L450.1 291.1 L450.7 287.6 L451.2 282.7 L451.7 276.7 L452.2 269.5 L452.7 261.3 L453.2 252.2 L453.8 242.2 L454.3 231.4 L454.8 220.0 L455.5 190.2 L456.2 157.0 L456.8 138.8 L457.3 120.8 L457.9 104.4 L458.4 90.9 L458.9 81.8 L459.5 78.5 L460.1 82.3 L460.6 92.6 L461.2 107.5 L461.8 125.2 L462.3 144.0 L462.9 162.0 L463.4 181.1 L463.9 205.4 L464.4 232.0 L465.0 257.9 L465.5 280.1 L466.0 295.6 L466.5 301.4 L467.1 299.4 L467.6 293.8 L468.1 285.2 L468.7 274.4 L469.2 261.8 L469.8 248.1 L470.3 234.0 L470.9 220.0 L471.5 194.8 L472.2 177.7 L472.8 178.9 L473.3 182.4 L473.9 187.7 L474.5 194.4 L475.0 202.2 L475.6 210.5 L476.1 223.5 L476.6 242.5 L477.1 259.5 L477.6 266.9 L478.1 264.2 L478.7 257.0 L479.2 246.4 L479.8 233.6 L480.3 220.0 L480.8 196.9 L481.4 168.1 L481.9 154.0 L482.5 161.0 L483.1 178.1 L483.7 199.7 L484.3 220.0 L484.8 238.3 L485.3 259.4 L485.8 276.8 L486.3 284.0 L486.8 279.7 L487.4 268.4 L487.9 253.0 L488.5 235.9 L489.0 220.0 L489.6 196.2 L490.3 181.1 L490.8 183.9 L491.4 191.1 L491.9 201.3 L492.5 212.8 L493.0 224.0 L493.5 235.9 L494.0 251.1 L494.5 268.4 L495.0 286.5 L495.5 304.2 L496.0 320.1 L496.5 333.1 L497.0 341.8 L497.5 345.0 L498.0 342.2 L498.6 334.3 L499.1 321.9 L499.6 306.0 L500.1 287.0 L500.6 265.9 L501.2 243.3 L501.7 220.0 L502.3 171.4 L503.0 110.8 L503.6 81.1 L504.1 82.7 L504.6 86.9 L505.2 92.9 L505.7 100.0 L506.2 110.4 L506.7 125.8 L507.2 143.9 L507.7 162.0 L508.2 182.2 L508.7 206.6 L509.2 232.6 L509.7 257.8 L510.2 279.6 L510.7 295.5 L511.2 303.0 L511.7 305.4 L512.2 307.6 L512.7 309.6 L513.2 311.4 L513.7 313.0 L514.2 314.4 L514.8 315.6 L515.3 316.6 L515.8 317.4 L516.3 318.0 L516.8 318.5 L517.3 318.7 L517.8 318.8 L518.3 317.8 L518.9 314.8 L519.5 310.0 L520.0 303.6 L520.5 295.9 L521.1 287.0 L521.6 267.8 L522.2 235.3 L522.8 198.7 L523.3 167.0 L523.8 137.8 L524.4 107.6 L525.0 84.0 L525.5 74.4 L526.0 79.1 L526.6 91.6 L527.1 109.3 L527.6 129.4 L528.2 149.5 L528.7 167.0 L529.2 183.8 L529.8 202.6 L530.3 222.6 L530.9 242.8 L531.4 262.5 L531.9 280.5 L532.5 296.1 L533.0 308.4 L533.6 316.4 L534.1 319.3 L534.6 309.8 L535.2 285.4 L535.8 252.6 L536.3 217.7 L536.9 187.0 L537.4 167.0 L538.0 154.5 L538.5 142.8 L539.0 132.4 L539.6 124.1 L540.2 118.7 L540.7 116.7 L541.3 118.7 L541.8 124.3 L542.4 132.6 L543.0 143.0 L543.5 154.7 L544.1 167.0 L544.7 185.8 L545.2 214.0 L545.8 245.7 L546.4 275.4 L546.9 297.4 L547.5 306.0 L548.0 293.6 L548.5 263.2 L549.1 225.1 L549.6 189.6 L550.1 167.0 L550.6 154.0 L551.2 142.3 L551.7 132.8 L552.3 126.4 L552.8 124.1 L553.3 127.0 L553.8 134.4 L554.4 143.8 L554.9 153.1 L555.4 160.0 L555.9 165.0 L556.4 169.7 L556.9 173.3 L557.4 174.7 L557.9 174.2 L558.4 172.8 L558.9 170.9 L559.4 168.7 L559.9 166.5 L560.4 164.6 L560.9 163.2 L561.4 162.7 L562.0 163.1 L562.5 164.1 L563.1 165.6 L563.7 167.5 L564.2 169.7 L564.8 172.0 L565.3 175.0 L565.9 179.1 L566.5 184.0 L567.0 189.4 L567.5 194.9 L568.1 200.2 L568.6 205.7 L569.2 211.8 L569.7 217.8 L570.3 223.1 L570.8 227.0 L571.3 229.8 L571.8 232.4 L572.3 234.6 L572.8 236.1 L573.3 236.7 L573.8 236.4 L574.3 235.7 L574.8 234.5 L575.3 233.0 L575.8 231.2 L576.3 229.2 L576.8 227.0 L577.4 222.6 L577.9 215.5 L578.5 206.9 L579.1 198.4 L579.6 191.2 L580.2 186.8 L580.7 184.5 L581.2 182.6 L581.7 181.2 L582.2 180.7 L582.7 181.2 L583.2 182.4 L583.7 184.1 L584.2 186.2 L584.7 188.4 L585.2 190.5 L585.7 192.3 L586.2 193.5 L586.7 194.4 L587.3 195.3 L587.8 196.1 L588.4 196.6 L588.9 196.8 L589.4 196.7 L589.9 196.4 L590.4 195.9 L590.9 195.4 L591.4 195.0 L591.9 194.5 L592.4 194.2 L592.9 194.1 L593.5 194.2 L594.0 194.5 L594.5 195.0 L595.1 195.6 L595.7 196.2 L596.2 196.8 L596.8 197.4 L597.3 198.0 L597.9 198.7 L598.5 199.5 L599.0 200.4 L599.6 201.5 L600.1 203.1 L600.7 205.3 L601.2 208.0 L601.8 210.8 L602.4 213.7 L602.9 216.2 L603.4 218.6 L604.0 221.0 L604.5 223.4 L605.1 225.5 L605.6 227.0 L606.1 228.1 L606.7 228.9 L607.2 229.5 L607.7 230.2 L608.2 230.8 L608.8 231.6 L609.3 232.7 L609.8 234.2 L610.3 236.5 L610.8 239.3 L611.3 242.6 L611.8 246.3 L612.3 250.2 L612.8 254.4 L613.3 258.5 L613.8 262.7 L614.3 266.6 L614.8 270.3 L615.3 273.6 L615.8 276.5 L616.3 278.7 L616.8 280.3 L617.3 281.0 L617.8 281.3 L618.4 281.4 L618.9 281.6 L619.5 281.7 L620.0 282.0 L620.5 283.5 L621.0 286.9 L621.6 291.7 L622.1 297.5 L622.6 303.7 L623.1 309.7 L623.7 315.1 L624.2 319.4 L624.7 322.0 L625.2 323.6 L625.7 325.0 L626.3 326.2 L626.8 327.0 L627.3 327.3 L627.8 327.2 L628.3 327.0 L628.8 326.8 L629.3 326.5 L629.8 326.3 L630.3 326.1 L630.8 326.0 L631.3 326.3 L631.9 327.2 L632.4 328.4 L632.9 329.7 L633.4 330.9 L634.0 331.8 L634.5 332.1 L635.0 331.8 L635.6 331.2 L636.1 330.2 L636.6 329.0 L637.2 327.8 L637.7 326.6 L638.2 325.6 L638.8 325.0 L639.3 324.7 L639.8 324.9 L640.4 325.4 L640.9 326.1 L641.5 327.1 L642.0 328.1 L642.5 329.1 L643.1 330.1 L643.6 331.0 L644.2 331.7 L644.7 332.1 L645.2 332.3 L645.7 332.5 L646.2 332.7 L646.7 332.8 L647.2 332.9 L647.7 333.0 L648.3 333.1 L648.8 333.2 L649.3 333.3 L649.8 333.4 L650.3 333.6 L650.8 333.8 L651.3 334.0 L651.8 334.4 L652.3 335.0 L652.8 335.9 L653.4 336.9 L653.9 338.1 L654.4 339.3 L654.9 340.6 L655.4 341.9 L655.9 343.2 L656.5 344.4 L657.0 345.5 L657.5 346.5 L658.0 347.3 L658.5 348.0 L659.0 348.6 L659.5 349.2 L660.0 349.8 L660.5 350.4 L661.0 350.9 L661.5 351.5 L662.0 352.0 L662.5 352.4 L663.0 352.9 L663.5 353.4 L664.0 353.8 L664.5 354.2 L665.0 354.6 L665.5 355.0 L666.0 355.3 L666.5 355.6 L667.0 355.9 L667.5 356.2 L668.1 356.4 L668.6 356.6 L669.1 356.8 L669.6 357.0 L670.1 357.3 L670.6 357.5 L671.2 357.8 L671.7 358.1 L672.2 358.4 L672.7 358.8 L673.2 359.3 L673.7 359.9 L674.2 360.6 L674.7 361.5 L675.2 362.4 L675.7 363.4 L676.2 364.5 L676.7 365.7 L677.2 366.9 L677.7 368.1 L678.2 369.3 L678.7 370.6 L679.2 371.8 L679.7 373.0 L680.2 374.2 L680.7 375.3 L681.2 376.5 L681.7 377.9 L682.2 379.3 L682.7 380.9 L683.2 382.5 L683.7 384.0 L684.3 385.5 L684.8 386.9 L685.3 388.1 L685.8 389.2 L686.3 390.0 L686.8 390.6 L687.3 390.8 L687.8 390.9 L688.3 390.9 L688.9 391.0 L689.4 391.0 L689.9 391.0 L690.4 391.1 L691.0 391.1 L691.5 391.2 L692.0 391.2 L692.5 391.2 L693.0 391.2 L693.6 391.2 L694.1 391.3 L694.6 391.3 L695.1 391.3 L695.7 391.3 L696.2 391.3 L696.7 391.3 L697.2 391.3 L697.7 391.1 L698.2 390.9 L698.7 390.6 L699.2 390.3 L699.7 389.9 L700.2 389.5 L700.7 389.0 L701.2 388.6 L701.8 388.1 L702.3 387.6 L702.8 387.2 L703.3 386.8 L703.8 386.5 L704.3 386.2 L704.8 386.0 L705.3 385.8 L705.8 385.8 L706.4 385.8 L706.9 385.9 L707.5 385.9 L708.1 386.0 L708.6 386.2 L709.2 386.3 L709.7 386.5 L710.2 386.9 L710.7 387.4 L711.2 388.0 L711.7 388.6 L712.2 389.4 L712.7 390.2 L713.2 391.0 L713.7 391.9 L714.2 392.7 L714.7 393.5 L715.2 394.2 L715.7 394.8 L716.2 395.4 L716.7 395.8 L717.2 396.1 L717.7 396.4 L718.2 396.6 L718.7 396.8 L719.2 397.0 L719.7 397.2 L720.2 397.4 L720.7 397.7 L721.2 398.0 L721.7 398.3 L722.2 398.8 L722.7 399.4 L723.2 400.2 L723.7 401.0 L724.2 401.9 L724.7 402.8 L725.2 403.5 L725.7 404.2 L726.2 404.7 L726.7 405.0 L727.2 405.2 L727.7 405.3 L728.2 405.5 L728.8 405.6 L729.3 405.7 L729.8 405.7 L730.3 405.8 L730.8 405.8 L731.3 405.7 L731.8 405.6 L732.4 405.3 L732.9 405.0 L733.4 404.7 L734.0 404.4 L734.5 404.3 L735.0 404.2 L735.5 404.3 L736.1 404.4 L736.6 404.7 L737.1 405.0 L737.6 405.4 L738.2 405.8 L738.7 406.2 L739.2 406.6 L739.7 407.0 L740.3 407.3 L740.8 407.5 L741.4 407.7 L741.9 407.9 L742.5 408.0 L743.1 408.2 L743.6 408.3 L744.2 408.3 L744.7 408.2 L745.2 408.1 L745.7 407.8 L746.2 407.5 L746.8 407.2 L747.3 406.9 L747.8 406.8 L748.3 406.7 L748.8 406.7 L749.3 406.8 L749.8 406.8 L750.3 406.9 L750.8 407.0 L751.3 407.1 L751.8 407.2 L752.3 407.3 L752.8 407.4 L753.3 407.5 L753.8 407.6 L754.3 407.7 L754.8 407.9 L755.3 408.1 L755.8 408.2 L756.3 408.4 L756.8 408.5 L757.3 408.6 L757.8 408.7 L758.3 408.7 L758.8 408.7 L759.3 408.5 L759.8 408.4 L760.4 408.2 L760.9 407.9 L761.4 407.6 L761.9 407.4 L762.4 407.1 L762.9 406.8 L763.5 406.6 L764.0 406.5 L764.5 406.3 L765.0 406.3 L765.5 406.4 L766.0 406.7 L766.5 407.1 L767.0 407.7 L767.5 408.3 L768.0 408.9 L768.5 409.5 L769.0 410.1 L769.5 410.5 L770.0 410.8 L770.5 411.0 L771.0 411.2 L771.5 411.4 L772.1 411.6 L772.6 411.8 L773.1 411.9 L773.6 412.1 L774.1 412.2 L774.6 412.3 L775.2 412.4 L775.7 412.4 L776.2 412.5 L776.7 412.5 L777.2 412.5 L777.8 412.4 L778.3 412.2 L778.8 412.0 L779.3 411.8 L779.9 411.5 L780.4 411.3 L780.9 411.1 L781.4 410.9 L782.0 410.8 L782.5 410.8 L783.0 410.9 L783.6 411.2 L784.1 411.6 L784.6 412.1 L785.1 412.6 L785.7 413.2 L786.2 413.7 L786.7 414.2 L787.2 414.6 L787.8 414.9 L788.3 415.0 L788.8 415.0 L789.3 415.0 L789.8 415.0 L790.4 415.0 L790.9 415.0 L791.4 415.0 L791.9 415.0 L792.4 415.0 L792.9 415.0 L793.5 415.0 L794.0 415.0 L794.5 415.0 L795.0 415.0 L795.5 415.0 L796.0 415.1 L796.5 415.2 L797.1 415.4 L797.6 415.6 L798.1 415.8 L798.6 416.0 L799.1 416.3 L799.6 416.5 L800.2 416.8 L800.7 417.0 L801.2 417.3 L801.7 417.5 L802.2 417.7 L802.7 418.0 L803.2 418.3 L803.7 418.7 L804.2 419.0 L804.7 419.3 L805.3 419.7 L805.8 420.0 L806.3 420.2 L806.8 420.5 L807.3 420.6 L807.8 420.8 L808.3 420.8 L808.8 420.8 L809.3 420.7 L809.8 420.6 L810.3 420.5 L810.8 420.4 L811.3 420.3 L811.8 420.2 L812.3 420.1 L812.8 420.0 L813.3 420.0 L813.8 420.1 L814.3 420.2 L814.8 420.5 L815.3 420.9 L815.8 421.2 L816.3 421.7 L816.8 422.1 L817.3 422.4 L817.8 422.8 L818.3 423.0 L818.8 423.2 L819.3 423.4 L819.8 423.6 L820.4 423.7 L820.9 423.9 L821.4 424.0 L821.9 424.2 L822.4 424.3 L822.9 424.5 L823.5 424.6 L824.0 424.7 L824.5 424.9 L825.0 425.0 L825.5 425.1 L826.1 425.3 L826.6 425.4 L827.2 425.5 L827.8 425.7 L828.3 425.8" stroke="#cc00cc" stroke-width="2.4" fill="none" stroke-linejoin="round" stroke-linecap="round"/>
</g>
<rect x="75.5" y="35.5" width="771" height="391" fill="none" stroke="#808080" stroke-width="1"/>
<g stroke="#c0c0c0" stroke-width="1" fill="none" shape-rendering="crispEdges">
<path d="M71.5 35V427 M75 430.5H847 M850.5 35V427"/>
<path d="M69 426.5H72 M69 401.5H72 M69 376.5H72 M69 351.5H72 M69 326.5H72 M69 301.5H72 M69 276.5H72 M69 251.5H72 M69 226.5H72 M69 201.5H72 M69 176.5H72 M69 151.5H72 M69 126.5H72 M69 102.5H72 M69 77.5H72 M69 52.5H72 M850 426.5H853 M850 388.5H853 M850 351.5H853 M850 313.5H853 M850 276.5H853 M850 239.5H853 M850 201.5H853 M850 164.5H853 M850 126.5H853 M850 89.5H853 M850 52.5H853 M81.5 430V433 M133.5 430V433 M185.5 430V433 M238.5 430V433 M290.5 430V433 M342.5 430V433 M395.5 430V433 M447.5 430V433 M499.5 430V433 M552.5 430V433 M604.5 430V433 M656.5 430V433 M709.5 430V433 M761.5 430V433 M813.5 430V433" stroke="#a0a0a0"/>
</g>
<g font-family="Liberation Sans, sans-serif" font-size="12.5" fill="#444444"><text transform="translate(64.8 430.90) scale(1.03 1)" text-anchor="end">0</text><text transform="translate(64.8 405.97) scale(1.03 1)" text-anchor="end">200</text><text transform="translate(64.8 381.03) scale(1.03 1)" text-anchor="end">400</text><text transform="translate(64.8 356.10) scale(1.03 1)" text-anchor="end">600</text><text transform="translate(64.8 331.17) scale(1.03 1)" text-anchor="end">800</text><text transform="translate(64.8 306.23) scale(1.03 1)" text-anchor="end">1,000</text><text transform="translate(64.8 281.30) scale(1.03 1)" text-anchor="end">1,200</text><text transform="translate(64.8 256.37) scale(1.03 1)" text-anchor="end">1,400</text><text transform="translate(64.8 231.43) scale(1.03 1)" text-anchor="end">1,600</text><text transform="translate(64.8 206.50) scale(1.03 1)" text-anchor="end">1,800</text><text transform="translate(64.8 181.57) scale(1.03 1)" text-anchor="end">2,000</text><text transform="translate(64.8 156.63) scale(1.03 1)" text-anchor="end">2,200</text><text transform="translate(64.8 131.70) scale(1.03 1)" text-anchor="end">2,400</text><text transform="translate(64.8 106.77) scale(1.03 1)" text-anchor="end">2,600</text><text transform="translate(64.8 81.83) scale(1.03 1)" text-anchor="end">2,800</text><text transform="translate(64.8 56.90) scale(1.03 1)" text-anchor="end">3,000</text></g>
<g font-family="Liberation Sans, sans-serif" font-size="10.5" fill="#000000"><text x="855.7" y="430.20">0</text><text x="855.7" y="392.80">5</text><text x="855.7" y="355.40">10</text><text x="855.7" y="318.00">15</text><text x="855.7" y="280.60">20</text><text x="855.7" y="243.20">25</text><text x="855.7" y="205.80">30</text><text x="855.7" y="168.40">35</text><text x="855.7" y="131.00">40</text><text x="855.7" y="93.60">45</text><text x="855.7" y="56.20">50</text></g>
<g font-family="Liberation Sans, sans-serif" font-size="12.5" fill="#444444"><text transform="translate(80.90 446) scale(1.016 1)" text-anchor="middle">07:00</text><text transform="translate(132.90 446) scale(1.016 1)" text-anchor="middle">08:00</text><text transform="translate(184.90 446) scale(1.016 1)" text-anchor="middle">09:00</text><text transform="translate(237.90 446) scale(1.016 1)" text-anchor="middle">10:00</text><text transform="translate(289.90 446) scale(1.016 1)" text-anchor="middle">11:00</text><text transform="translate(341.90 446) scale(1.016 1)" text-anchor="middle">12:00</text><text transform="translate(394.90 446) scale(1.016 1)" text-anchor="middle">13:00</text><text transform="translate(446.90 446) scale(1.016 1)" text-anchor="middle">14:00</text><text transform="translate(498.90 446) scale(1.016 1)" text-anchor="middle">15:00</text><text transform="translate(551.90 446) scale(1.016 1)" text-anchor="middle">16:00</text><text transform="translate(603.90 446) scale(1.016 1)" text-anchor="middle">17:00</text><text transform="translate(655.90 446) scale(1.016 1)" text-anchor="middle">18:00</text><text transform="translate(708.90 446) scale(1.016 1)" text-anchor="middle">19:00</text><text transform="translate(760.90 446) scale(1.016 1)" text-anchor="middle">20:00</text><text transform="translate(812.90 446) scale(1.016 1)" text-anchor="middle">21:00</text></g>
<text x="460.5" y="464.7" text-anchor="middle" font-family="Liberation Sans, sans-serif" font-size="14.5" textLength="29.6" lengthAdjust="spacingAndGlyphs" fill="#444444">time</text>
<text transform="translate(25.4 231.5) rotate(-90)" x="0" y="0" text-anchor="middle" font-family="Liberation Sans, sans-serif" font-size="14.5" textLength="33.7" lengthAdjust="spacingAndGlyphs" fill="#444444">Watt</text>
<text transform="translate(875.6 230.4) rotate(90)" x="0" y="0" text-anchor="middle" font-family="Liberation Sans, sans-serif" font-size="13" fill="#000000">%</text>
<rect x="121.5" y="477.5" width="657" height="21" fill="#ffffff" stroke="#000000" stroke-width="1"/>
<path d="M124 487.7H140" stroke="#cc00cc" stroke-width="2.4"/><circle cx="132" cy="487.6" r="1.7" fill="#cc00cc"/>
<path d="M452 487.7H468" stroke="#0033cc" stroke-width="2.4"/><circle cx="460" cy="487.6" r="1.7" fill="#0033cc"/>
<text x="141.9" y="492.8" font-family="Liberation Sans, sans-serif" font-size="12.5" textLength="305.3" lengthAdjust="spacingAndGlyphs" fill="#444444">SB3000TL-20-SN2100578613_21panels( 17.388 kWh )</text>
<text x="469.9" y="492.8" font-family="Liberation Sans, sans-serif" font-size="12.5" textLength="305.3" lengthAdjust="spacingAndGlyphs" fill="#444444">SB3000TL-21-SN2130032031_19panels( 17.187 kWh )</text>
</svg>
</body></html>
